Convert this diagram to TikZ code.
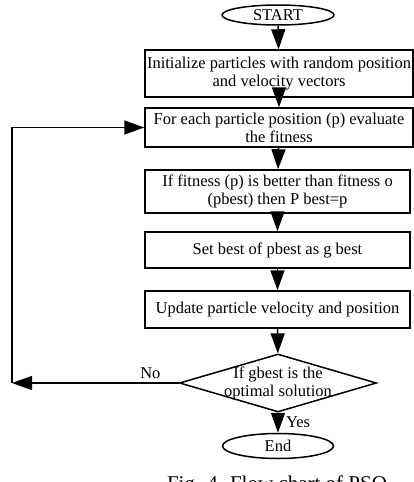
\documentclass[tikz,border=0pt]{standalone}
\usepackage{fontspec}
\setmainfont{Liberation Serif}
\usetikzlibrary{arrows.meta,positioning,shapes.geometric}
\tikzset{>={Triangle[length=20pt,width=14pt]},
  flowarrow/.style={->,line width=1.5pt,draw=black},
  procbox/.style={draw,line width=1.5pt,rectangle,align=center,inner sep=0pt},
  termnode/.style={draw,line width=1.5pt,ellipse,inner sep=0pt},
  decnode/.style={draw,line width=1.5pt,diamond,aspect=3.4,inner sep=-9pt,align=center}
}

\begin{document}
\begin{tikzpicture}[x=1pt,y=-1pt,font=\fontsize{16.5}{18}\selectfont]
  \useasboundingbox (0,0) rectangle (414,482);
  % Terminals and steps
  \node (start) [termnode, minimum width=112pt, minimum height=20pt] at (278,15) {START};
  \node (init) [procbox, minimum width=268pt, minimum height=47pt] at (279,73.5) {Initialize particles with random position\\and velocity vectors};
  \node (eval) [procbox, minimum width=268pt, minimum height=39pt] at (279,127.5) {For each particle position (p) evaluate\\the fitness};
  \node (better) [procbox, minimum width=265pt, minimum height=43pt] at (277.5,191.5) {If fitness (p) is better than fitness o\\(pbest) then P best=p};
  \node (setg) [procbox, minimum width=265pt, minimum height=36pt] at (277.5,250) {Set best of pbest as g best};
  \node (update) [procbox, minimum width=265pt, minimum height=37pt] at (277.5,309.5) {Update particle velocity and position};
  \node (check) [decnode, minimum width=197pt, minimum height=58pt] at (278,383) {If gbest is the\\optimal solution};
  \node (end) [termnode, minimum width=111pt, minimum height=25pt] at (278,446) {End};
  % Loop back corners
  \coordinate (loopcorner) at (12,383);
  \coordinate (looptop) at (12,127.5);
  % Edges
  \draw[flowarrow] (start) -- (init);
  \draw[flowarrow] (init) -- (eval);
  \draw[flowarrow] (eval) -- (better);
  \draw[flowarrow] (better) -- (setg);
  \draw[flowarrow] (setg) -- (update);
  \draw[flowarrow] (update) -- (check);
  \draw[flowarrow] (check) -- node[right=4pt, pos=0.45] (yes) {Yes} (end);
  \draw[flowarrow] (check) -- node[above=0pt, pos=0.17] (no) {No} (loopcorner);
  \draw[flowarrow] (loopcorner) -- (looptop) -- (eval);
  % Caption
  \node (caption) [anchor=north, font=\fontsize{21}{24}\selectfont, inner sep=0pt] at (277,476) {Fig. 4. Flow chart of PSO};
\end{tikzpicture}
\end{document}
